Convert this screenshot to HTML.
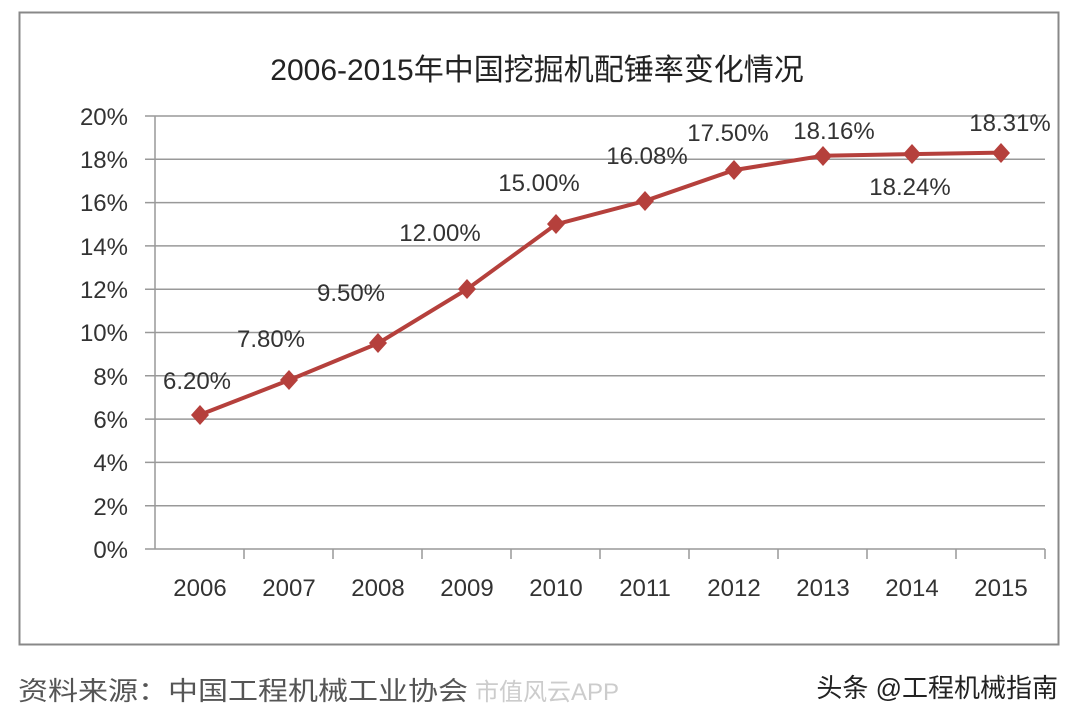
<!DOCTYPE html>
<html><head><meta charset="utf-8"><style>
body{margin:0;background:#fff;width:1080px;height:721px;overflow:hidden}
text{font-family:"Liberation Sans","Noto Sans CJK SC",sans-serif}
</style></head><body>
<svg width="1080" height="721" xmlns="http://www.w3.org/2000/svg">
<rect x="19.5" y="12.5" width="1039" height="632" fill="#fff" stroke="#888" stroke-width="2"/>
<text x="537" y="80" font-size="30" text-anchor="middle" fill="#222">2006-2015年中国挖掘机配锤率变化情况</text>
<g stroke="#999" stroke-width="1.5">
<line x1="145" y1="116" x2="1045" y2="116"/><line x1="145" y1="159.3" x2="1045" y2="159.3"/>
<line x1="145" y1="202.6" x2="1045" y2="202.6"/><line x1="145" y1="245.9" x2="1045" y2="245.9"/>
<line x1="145" y1="289.2" x2="1045" y2="289.2"/><line x1="145" y1="332.5" x2="1045" y2="332.5"/>
<line x1="145" y1="375.8" x2="1045" y2="375.8"/><line x1="145" y1="419.1" x2="1045" y2="419.1"/>
<line x1="145" y1="462.4" x2="1045" y2="462.4"/><line x1="145" y1="505.7" x2="1045" y2="505.7"/>
<line x1="145" y1="549" x2="1045" y2="549"/>
<line x1="155" y1="116" x2="155" y2="549"/>
<line x1="244" y1="549" x2="244" y2="559"/><line x1="333" y1="549" x2="333" y2="559"/><line x1="422" y1="549" x2="422" y2="559"/><line x1="511" y1="549" x2="511" y2="559"/><line x1="600" y1="549" x2="600" y2="559"/><line x1="689" y1="549" x2="689" y2="559"/><line x1="778" y1="549" x2="778" y2="559"/><line x1="867" y1="549" x2="867" y2="559"/><line x1="956" y1="549" x2="956" y2="559"/><line x1="1045" y1="549" x2="1045" y2="559"/>
</g>
<g font-size="24" fill="#333" text-anchor="end">
<text x="128" y="125">20%</text><text x="128" y="168">18%</text><text x="128" y="211">16%</text><text x="128" y="255">14%</text><text x="128" y="298">12%</text><text x="128" y="341">10%</text><text x="128" y="385">8%</text><text x="128" y="428">6%</text><text x="128" y="471">4%</text><text x="128" y="515">2%</text><text x="128" y="558">0%</text>
</g>
<g font-size="24" fill="#333" text-anchor="middle">
<text x="200" y="596">2006</text><text x="289" y="596">2007</text><text x="378" y="596">2008</text><text x="467" y="596">2009</text><text x="556" y="596">2010</text><text x="645" y="596">2011</text><text x="734" y="596">2012</text><text x="823" y="596">2013</text><text x="912" y="596">2014</text><text x="1001" y="596">2015</text>
</g>
<polyline fill="none" stroke="#b5403c" stroke-width="4" points="200,414.8 289,380.1 378,343.3 467,289.2 556,224.3 645,200.9 734,170.1 823,155.8 912,154.1 1001,152.6"/>
<g fill="#b5403c">
<path d="M200 405l9 10-9 10-9-10z"/><path d="M289 370l9 10-9 10-9-10z"/><path d="M378 333l9 10-9 10-9-10z"/><path d="M467 279l9 10-9 10-9-10z"/><path d="M556 214l9 10-9 10-9-10z"/><path d="M645 191l9 10-9 10-9-10z"/><path d="M734 160l9 10-9 10-9-10z"/><path d="M823 146l9 10-9 10-9-10z"/><path d="M912 144l9 10-9 10-9-10z"/><path d="M1001 143l9 10-9 10-9-10z"/>
</g>
<g font-size="24" fill="#333" text-anchor="middle">
<text x="197" y="389">6.20%</text><text x="271" y="347">7.80%</text><text x="351" y="301">9.50%</text><text x="440" y="241">12.00%</text><text x="539" y="191">15.00%</text><text x="647" y="164">16.08%</text><text x="728" y="141">17.50%</text><text x="834" y="139">18.16%</text><text x="910" y="195">18.24%</text><text x="1010" y="131">18.31%</text>
</g>
<text x="18" y="700" font-size="26" fill="#555" textLength="450" lengthAdjust="spacingAndGlyphs">资料来源：中国工程机械工业协会</text>
<text x="475" y="700" font-size="24" fill="#ccc">市值风云APP</text>
<text x="1058" y="697" font-size="26" fill="#222" text-anchor="end">头条 @工程机械指南</text>
</svg>
</body></html>
